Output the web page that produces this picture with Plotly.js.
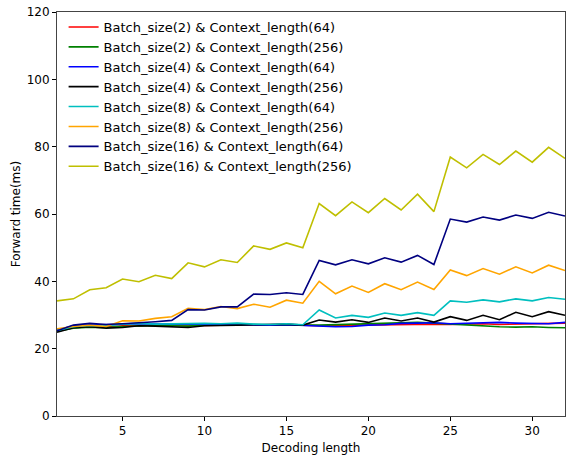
<!DOCTYPE html>
<html>
<head>
<meta charset="utf-8">
<script src="https://cdn.plot.ly/plotly-3.0.1.min.js"></script>
<style>html,body{margin:0;padding:0;background:#fff;}#chart{width:566px;height:456px;}</style>
</head>
<body>
<div id="chart"></div>
<script>
const decodingLength = [1,2,3,4,5,6,7,8,9,10,11,12,13,14,15,16,17,18,19,20,21,22,23,24,25,26,27,28,29,30,31,32];

const b2c64 = [25.3,26.2,26.6,26.5,26.8,26.9,27.0,27.0,27.1,26.9,27.0,27.2,27.1,27.0,27.2,27.0,26.8,26.9,27.0,27.1,27.2,27.3,27.4,27.3,27.2,27.3,27.4,27.2,27.3,27.2,27.4,27.6];
const b2c256 = [25.2,26.1,26.4,26.3,26.6,26.8,26.9,26.8,26.7,27.0,27.1,27.2,27.2,27.0,27.1,27.0,27.0,27.1,27.2,27.3,27.5,27.6,27.8,27.6,27.3,27.0,26.9,26.5,26.4,26.5,26.3,26.2];
const b4c64 = [25.5,26.8,27.0,27.2,27.3,27.4,27.3,27.2,27.3,27.3,27.2,27.3,27.2,27.0,27.1,26.9,26.6,26.5,26.6,27.0,27.1,27.5,27.6,27.7,27.4,27.6,27.7,27.8,27.6,27.5,27.4,27.8];
const b4c256 = [24.9,26.2,26.5,26.1,26.3,26.8,26.7,26.5,26.3,26.8,26.8,27.0,27.1,27.2,27.3,27.0,28.5,27.9,28.6,27.8,29.1,28.2,29.1,27.9,29.5,28.4,29.9,28.6,30.8,29.5,31.0,29.9];
const b8c64 = [25.4,26.5,26.9,26.8,27.3,27.5,27.3,27.4,27.6,27.5,27.4,27.6,27.3,27.2,27.4,27.1,31.5,29.1,29.9,29.3,30.6,29.9,30.7,29.9,34.2,33.8,34.5,33.9,34.8,34.2,35.2,34.7];
const b8c256 = [25.9,26.6,27.0,26.6,28.3,28.2,29.0,29.5,32.0,31.6,32.5,31.9,33.2,32.3,34.4,33.5,40.0,36.3,38.6,36.7,39.3,37.5,39.8,37.6,43.4,41.7,43.8,42.1,44.3,42.5,44.8,43.2];
const b16c64 = [25.3,27.0,27.5,27.2,27.4,27.6,28.0,28.4,31.6,31.5,32.4,32.4,36.2,36.1,36.6,36.1,46.2,44.9,46.4,45.2,47.0,45.7,47.7,45.0,58.5,57.6,59.1,58.2,59.7,58.7,60.5,59.4];
const b16c256 = [34.2,34.8,37.5,38.1,40.7,39.9,41.8,40.8,45.5,44.3,46.4,45.6,50.5,49.5,51.4,50.0,63.1,59.5,63.6,60.4,64.6,61.2,65.9,60.7,76.9,73.7,77.7,74.7,78.7,75.4,79.8,76.5];

const seriesNames = [
  "Batch_size(2) & Context_length(64)",
  "Batch_size(2) & Context_length(256)",
  "Batch_size(4) & Context_length(64)",
  "Batch_size(4) & Context_length(256)",
  "Batch_size(8) & Context_length(64)",
  "Batch_size(8) & Context_length(256)",
  "Batch_size(16) & Context_length(64)",
  "Batch_size(16) & Context_length(256)"
];
const seriesValues = [b2c64, b2c256, b4c64, b4c256, b8c64, b8c256, b16c64, b16c256];
const seriesColors = ["#ff0000","#008000","#0000ff","#000000","#00bfbf","#ffa500","#000080","#bfbf00"];

const xTicks = [5,10,15,20,25,30];
const yTicks = [0,20,40,60,80,100,120];

const traces = seriesValues.map((vals, i) => ({
  x: decodingLength,
  y: vals,
  type: 'scatter',
  mode: 'lines',
  name: seriesNames[i],
  line: {color: seriesColors[i], width: 1.6}
}));

const axisCommon = {
  showline: true, linecolor: '#444', linewidth: 1, mirror: true,
  ticks: 'outside', ticklen: 4, tickwidth: 1, tickcolor: '#000',
  showgrid: false, zeroline: false,
  tickfont: {family: 'DejaVu Sans', size: 12, color: '#000'}
};

const layout = {
  width: 566, height: 456,
  margin: {l: 57, r: 1, t: 12, b: 40},
  paper_bgcolor: '#fff', plot_bgcolor: '#fff',
  font: {family: 'DejaVu Sans', size: 12, color: '#000'},
  showlegend: true,
  legend: {x: 0.013, y: 1.0, xanchor: 'left', yanchor: 'top', bgcolor: 'rgba(0,0,0,0)',
           font: {family: 'DejaVu Sans', size: 13, color: '#000'}, tracegroupgap: 0, itemwidth: 30},
  xaxis: Object.assign({}, axisCommon, {
    range: [1, 32], tickvals: xTicks, ticktext: xTicks.map(String),
    title: {text: 'Decoding length', font: {family: 'DejaVu Sans', size: 12, color: '#000'}, standoff: 6}
  }),
  yaxis: Object.assign({}, axisCommon, {
    range: [0, 120], tickvals: yTicks, ticktext: yTicks.map(String),
    title: {text: 'Forward time(ms)', font: {family: 'DejaVu Sans', size: 12, color: '#000'}, standoff: 3}
  })
};

Plotly.newPlot('chart', traces, layout, {displayModeBar: false, staticPlot: true});
</script>
</body>
</html>
